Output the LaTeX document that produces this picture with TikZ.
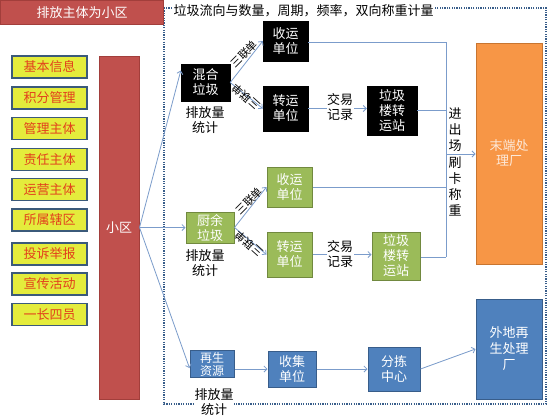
\documentclass[tikz,border=0pt]{standalone}
\usepackage{fontspec}
\newfontfamily\cjk{Noto Sans CJK SC}
\usetikzlibrary{arrows.meta,calc}
\definecolor{redfill}{HTML}{C0504D}
\definecolor{redline}{HTML}{A23E3B}
\definecolor{yfill}{HTML}{E4EC3C}
\definecolor{yline}{HTML}{3B5A7A}
\definecolor{ytext}{HTML}{E2401C}
\definecolor{gfill}{HTML}{9BBB59}
\definecolor{gline}{HTML}{71893F}
\definecolor{bfill}{HTML}{4F81BD}
\definecolor{bline}{HTML}{385D8A}
\definecolor{ofill}{HTML}{F79646}
\definecolor{oline}{HTML}{C87530}
\definecolor{otext}{HTML}{FDE9D9}
\definecolor{conn}{HTML}{7B9CCB}
\definecolor{dotc}{HTML}{385D8A}
\begin{document}
\begin{tikzpicture}[x=1pt,y=-1pt,
  font=\cjk\fontsize{13}{15}\selectfont,
  box/.style={rectangle,inner sep=0pt,align=center},
  redbox/.style={box,fill=redfill,draw=redline,line width=1pt,text=white},
  ybox/.style={box,fill=yfill,draw=yline,line width=1.5pt,text=ytext,minimum width=75pt,minimum height=22pt},
  kbox/.style={box,fill=black,draw=black,text=white},
  gbox/.style={box,fill=gfill,draw=gline,line width=1pt,text=white},
  bbox/.style={box,fill=bfill,draw=bline,line width=1pt,text=white},
  obox/.style={box,fill=ofill,draw=oline,line width=1pt,text=otext},
  conline/.style={draw=conn,line width=0.8pt},
  arr/.style={conline,-{Straight Barb[length=3pt,width=6pt]}},
  lbl/.style={inner sep=0.5pt,align=center,text=black},
  diag/.style={inner sep=0pt,font=\cjk\fontsize{11}{13}\selectfont,text=black}
]
\useasboundingbox (0,0) rectangle (554,416);
\fill[white] (0,0) rectangle (554,416);

% dotted frame
\draw[dotc,line width=1.3pt,dash pattern=on 1.2pt off 1.2pt] (164,8) rectangle (546,404);

% title
\node[redbox,minimum width=163pt,minimum height=24.5pt] (title) at (82,12.5) {排放主体为小区};
\node[lbl,fill=white,anchor=west] (subtitle) at (173,11) {垃圾流向与数量，周期，频率，双向称重计量};

% yellow boxes
\node[ybox] (y1) at (49.5,67) {基本信息};
\node[ybox] (y2) at (49.5,98) {积分管理};
\node[ybox] (y3) at (49.5,128.5) {管理主体};
\node[ybox] (y4) at (49.5,159.5) {责任主体};
\node[ybox] (y5) at (49.5,189.5) {运营主体};
\node[ybox] (y6) at (49.5,220) {所属辖区};
\node[ybox] (y7) at (49.5,254) {投诉举报};
\node[ybox] (y8) at (49.5,284) {宣传活动};
\node[ybox] (y9) at (49.5,314.5) {一长四员};

% xiaoqu bar
\node[redbox,minimum width=40pt,minimum height=343pt] (xq) at (119,227.5) {小区};

% black row
\node[kbox,minimum width=49pt,minimum height=37pt] (hh) at (205.5,82.5) {混合\\垃圾};
\node[kbox,minimum width=45pt,minimum height=40pt] (sk) at (285.5,41) {收运\\单位};
\node[kbox,minimum width=45pt,minimum height=45pt] (zk) at (285.5,108.5) {转运\\单位};
\node[kbox,minimum width=50pt,minimum height=49pt] (lk) at (392,110.5) {垃圾\\楼转\\运站};

% green row
\node[gbox,minimum width=48pt,minimum height=31pt] (cy) at (210,227.5) {厨余\\垃圾};
\node[gbox,minimum width=45pt,minimum height=40pt] (sg) at (289.5,187) {收运\\单位};
\node[gbox,minimum width=45pt,minimum height=45pt] (zg) at (289.5,254.5) {转运\\单位};
\node[gbox,minimum width=48pt,minimum height=48pt] (lg) at (396,256) {垃圾\\楼转\\运站};

% orange
\node[obox,minimum width=66pt,minimum height=221pt] (md) at (509,153.5) {末端处\\理厂};

% blue row
\node[bbox,minimum width=44pt,minimum height=27pt,font=\cjk\fontsize{12}{13}\selectfont] (zs) at (212,364) {再生\\资源};
\node[bbox,minimum width=48pt,minimum height=36pt] (sj) at (292,369) {收集\\单位};
\node[bbox,minimum width=52pt,minimum height=44pt] (fj) at (394,369) {分拣\\中心};
\node[bbox,minimum width=66pt,minimum height=100pt,font=\cjk\fontsize{13}{16}\selectfont] (wd) at (509,349) {外地再\\生处理\\厂};

% connectors from xiaoqu
\draw[arr] (xq.east) -- ([yshift=12pt]hh.west);
\draw[arr] (xq.east) -- (cy.west);
\draw[arr] (xq.east) -- ([yshift=-4pt]zs.west);

% black row connectors
\draw[arr] (hh.east) -- (sk.west);
\draw[arr] (hh.east) -- (zk.west);
\draw[arr] (zk.east) -- (lk.west |- zk.east);
\node[lbl,fill=white] (jy1) at (340,107) {交易\\记录};

% green row connectors
\draw[arr] (cy.east) -- (sg.west);
\draw[arr] (cy.east) -- (zg.west);
\draw[arr] (zg.east) -- (lg.west |- zg.east);
\node[lbl,fill=white] (jy2) at (340,254.5) {交易\\记录};

% bus to end plant
\coordinate (bustop) at (446,42);
\coordinate (busbot) at (446,257);
\coordinate (busmid) at (446,154);
\draw[conline] (sk.east |- bustop) -- (bustop) -- (busbot);
\draw[conline] (lk.east) -- (lk.east -| bustop);
\draw[conline] (sg.east) -- (sg.east -| bustop);
\draw[conline] (lg.east |- busbot) -- (busbot);
\draw[arr] (busmid) -- (busmid -| md.west);
\node[lbl,font=\cjk\fontsize{13}{16.3}\selectfont] (jc) at (455,162) {进\\出\\场\\刷\\卡\\称\\重};

% blue row connectors
\draw[arr] (zs.east |- sj.west) -- (sj.west);
\draw[arr] (sj.east) -- (fj.west);
\draw[arr] (fj.east) -- (wd.west);

% diagonal labels
\node[diag,rotate=45] (d1) at (244,54) {三联单};
\node[diag,rotate=138] (d2) at (246,97) {三联单};
\node[diag,rotate=45] (d3) at (249,201) {三联单};
\node[diag,rotate=138] (d4) at (249,244) {三联单};

% emission labels
\node[lbl] (p1) at (205,120) {排放量\\统计};
\node[lbl] (p2) at (205,263) {排放量\\统计};
\node[lbl,fill=white,inner sep=0pt] (p3) at (214,402.5) {排放量\\统计};
\end{tikzpicture}
\end{document}
